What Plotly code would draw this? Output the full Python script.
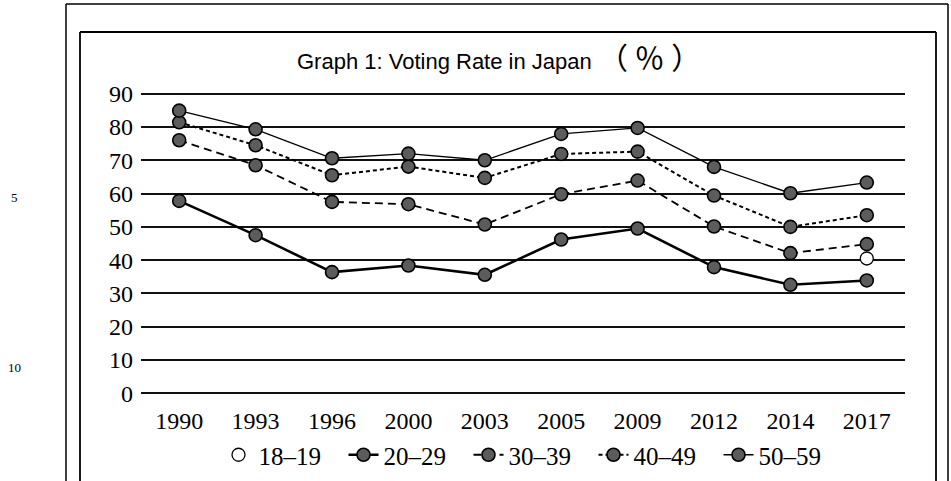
import plotly.graph_objects as go

years = ["1990", "1993", "1996", "2000", "2003", "2005", "2009", "2012", "2014", "2017"]
age_20_29 = [57.8, 47.5, 36.4, 38.4, 35.6, 46.2, 49.5, 37.9, 32.6, 33.9]
age_30_39 = [76.0, 68.5, 57.5, 56.8, 50.7, 59.8, 63.9, 50.1, 42.1, 44.8]
age_40_49 = [81.4, 74.5, 65.5, 68.1, 64.7, 71.9, 72.6, 59.4, 50.0, 53.5]
age_50_59 = [84.9, 79.3, 70.6, 72.0, 70.0, 77.9, 79.7, 68.0, 60.1, 63.3]
age_18_19_year = ["2017"]
age_18_19 = [40.5]
y_ticks = [0, 10, 20, 30, 40, 50, 60, 70, 80, 90]

W, H = 951, 481
L, R, T, B = 141, 46, 87, 81
YR = [-2, 92]

def px_x(p):
    return (p - L) / (W - L - R)

def px_y(p):
    return (H - B - p) / (H - T - B)

serif = "Liberation Serif, DejaVu Serif, serif"
mfill = "#5c5c5c"

fig = go.Figure()
fig.add_trace(go.Scatter(
    x=age_18_19_year, y=age_18_19, name="18–19", mode="markers",
    marker=dict(size=13, color="white", line=dict(color="black", width=1.3)),
))
series = [
    ("20–29", age_20_29, dict(color="black", width=2.6)),
    ("30–39", age_30_39, dict(color="black", width=1.8, dash="8px,5px")),
    ("40–49", age_40_49, dict(color="black", width=2.0, dash="4px,3px")),
    ("50–59", age_50_59, dict(color="black", width=1.3)),
]
for name, vals, ln in series:
    fig.add_trace(go.Scatter(
        x=years, y=vals, name=name, mode="lines+markers", line=ln,
        marker=dict(size=13, color=mfill, line=dict(color="black", width=1.6)),
    ))

shapes = []
def rect_lines(x0, y0, x1, y1, w):
    for (a, b, c, d) in [(x0, y0, x1, y0), (x0, y0, x0, y1), (x1, y0, x1, y1)]:
        shapes.append(dict(type="line", xref="paper", yref="paper",
                           x0=px_x(a), y0=px_y(b), x1=px_x(c), y1=px_y(d),
                           line=dict(color="black", width=w)))
rect_lines(66, 4, 948, 490, 1.5)
rect_lines(80, 32, 936, 490, 1.8)

annotations = [
    dict(text="Graph 1: Voting Rate in Japan <span style='font-size:30px;font-family:Noto Sans CJK JP'>（ ％ ）</span>",
         xref="paper", yref="paper",
         x=px_x(295), y=px_y(56), showarrow=False, xanchor="left", yanchor="middle",
         font=dict(family="Liberation Sans, Arial, Noto Sans CJK JP, sans-serif", size=22, color="black")),
    dict(text="5", xref="paper", yref="paper", x=px_x(14), y=px_y(197), showarrow=False,
         xanchor="center", yanchor="middle", font=dict(family=serif, size=13, color="black")),
    dict(text="10", xref="paper", yref="paper", x=px_x(14), y=px_y(367), showarrow=False,
         xanchor="center", yanchor="middle", font=dict(family=serif, size=13, color="black")),
]

fig.update_layout(
    width=W, height=H,
    margin=dict(l=L, r=R, t=T, b=B, pad=0, autoexpand=False),
    paper_bgcolor="white", plot_bgcolor="white",
    showlegend=True,
    legend=dict(orientation="h", x=px_x(531), y=px_y(455), xanchor="center", yanchor="middle",
                font=dict(family=serif, size=25, color="black"), bgcolor="rgba(0,0,0,0)",
                entrywidth=80, entrywidthmode="pixels", tracegroupgap=0),
    shapes=shapes,
    annotations=annotations,
)
fig.update_xaxes(type="category", categoryorder="array", categoryarray=years,
                 range=[-0.5, 9.5], showgrid=False, showline=False,
                 zeroline=False, ticks="", ticklabelstandoff=4,
                 tickfont=dict(family=serif, size=24, color="black"))
fig.update_yaxes(range=YR, tickvals=y_ticks, showgrid=True, gridcolor="#111", gridwidth=1.6,
                 zeroline=False, showline=False, ticks="", ticklabelstandoff=7,
                 tickfont=dict(family=serif, size=24, color="black"))

fig.write_html("out.html", config={"displayModeBar": False},
               post_script="document.body.style.margin='0';")
